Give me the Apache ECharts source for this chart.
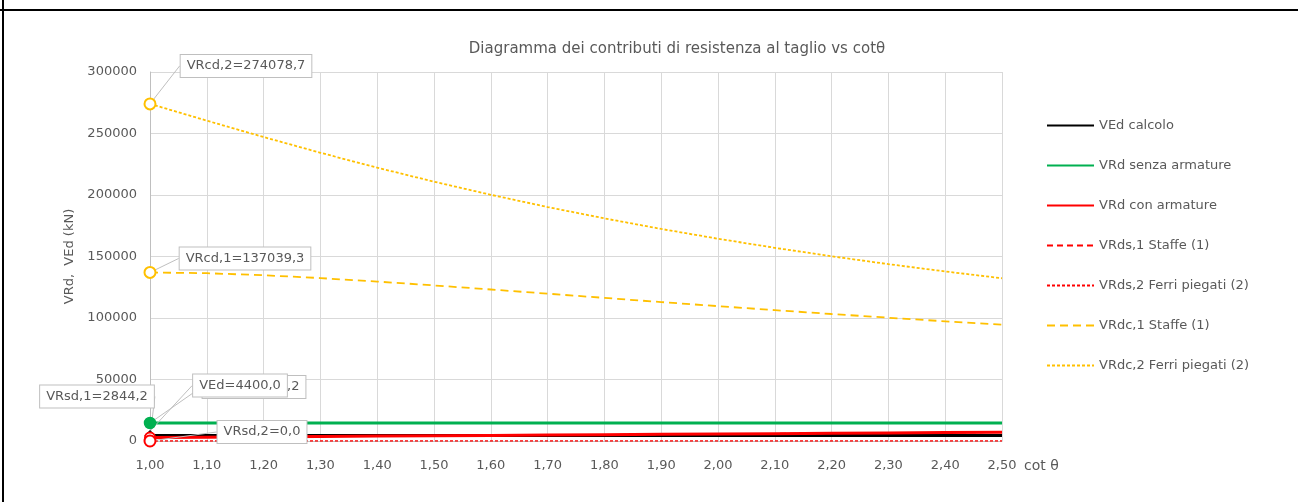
<!DOCTYPE html>
<html>
<head>
<meta charset="utf-8">
<script src="https://cdn.jsdelivr.net/npm/echarts@6/dist/echarts.min.js"></script>
<style>
  html, body { margin: 0; padding: 0; background: #fff; }
  #chart { width: 1298px; height: 502px; }
</style>
</head>
<body>
<div id="chart"></div>
<script>
// cot(theta) values on the x axis
const cotTheta = [1.00, 1.10, 1.20, 1.30, 1.40, 1.50, 1.60, 1.70, 1.80, 1.90, 2.00, 2.10, 2.20, 2.30, 2.40, 2.50]

// series values (kN)
const vEd = [4400, 4400, 4400, 4400, 4400, 4400, 4400, 4400, 4400, 4400, 4400, 4400, 4400, 4400, 4400, 4400]
const vRdSenza = [14633.2, 14633.2, 14633.2, 14633.2, 14633.2, 14633.2, 14633.2, 14633.2, 14633.2, 14633.2, 14633.2, 14633.2, 14633.2, 14633.2, 14633.2, 14633.2]
const vRdCon = [2844.2, 3128.6, 3413.0, 3697.5, 3981.9, 4266.3, 4550.7, 4835.1, 5119.6, 5404.0, 5688.4, 5972.8, 6257.2, 6541.7, 6826.1, 7110.5]
const vRsd1 = [2844.2, 3128.6, 3413.0, 3697.5, 3981.9, 4266.3, 4550.7, 4835.1, 5119.6, 5404.0, 5688.4, 5972.8, 6257.2, 6541.7, 6826.1, 7110.5]
const vRsd2 = [0, 0, 0, 0, 0, 0, 0, 0, 0, 0, 0, 0, 0, 0, 0, 0]
const vRcd1 = [137039.3, 136410, 134790, 132450, 129630, 126500, 123180, 119780, 116350, 112960, 109630, 106390, 103250, 100220, 97310, 94510]
const vRcd2 = [274078.7, 260440, 247120, 234340, 222220, 210830, 200170, 190230, 181000, 172420, 164450, 157050, 150180, 143790, 137850, 132310]

// tick labels
const yTicks = [0, 50000, 100000, 150000, 200000, 250000, 300000]

const names = ['VEd calcolo', 'VRd senza armature', 'VRd con armature', 'VRds,1 Staffe (1)',
  'VRds,2 Ferri piegati (2)', 'VRdc,1 Staffe (1)', 'VRdc,2 Ferri piegati (2)']

const grey = '#595959'
const font = 'DejaVu Sans'

const callout = {
  show: true,
  position: 'inside',
  backgroundColor: '#fff',
  borderColor: '#bfbfbf',
  borderWidth: 1,
  padding: [5, 6, 4, 6],
  color: grey,
  fontFamily: font,
  fontSize: 13
}

// first point carries the marker and the callout
function makeData(vals, symbol, size, text) {
  return cotTheta.map((c, i) => {
    if (i > 0) return [c, vals[i]]
    const item = { value: [c, vals[i]] }
    if (symbol) {
      item.symbol = symbol
      item.symbolSize = size
    }
    if (text) item.label = Object.assign({}, callout, { formatter: text })
    return item
  })
}

function lineSeries(name, vals, color, width, type, symbol, size, text, move) {
  return {
    name: name,
    type: 'line',
    symbol: 'none',
    data: makeData(vals, symbol, size, text),
    lineStyle: { color: color, width: width, type: type },
    itemStyle: { color: color, borderColor: color, borderWidth: 1.5 },
    label: { show: false },
    labelLine: { show: true, lineStyle: { color: '#bfbfbf', width: 1 } },
    labelLayout: move || {},
    emphasis: { disabled: true },
    animation: false
  }
}

const chart = echarts.init(document.getElementById('chart'))

const option = {
  backgroundColor: '#fff',
  title: {
    text: 'Diagramma dei contributi di resistenza al taglio vs cotθ',
    left: 672,
    textAlign: 'center',
    top: 37,
    textStyle: { color: grey, fontFamily: font, fontSize: 15, fontWeight: 'normal' }
  },
  legend: {
    data: names,
    orient: 'vertical',
    left: 1046,
    top: 119,
    padding: 0,
    itemWidth: 47,
    itemHeight: 14,
    itemGap: 27,
    itemStyle: { color: 'transparent', borderColor: 'transparent', borderWidth: 0, opacity: 0 },
    textStyle: { color: grey, fontFamily: font, fontSize: 13 }
  },
  grid: { left: 150, right: 296, top: 72, bottom: 61 },
  xAxis: {
    type: 'value',
    min: 1.0,
    max: 2.5,
    interval: 0.1,
    name: 'cot θ',
    nameLocation: 'end',
    nameGap: 22,
    nameTextStyle: { color: grey, fontFamily: font, fontSize: 14, verticalAlign: 'top', padding: [18, 0, 0, 0] },
    axisLine: { show: true, lineStyle: { color: '#bfbfbf' } },
    axisTick: { show: false },
    axisLabel: {
      color: grey, fontFamily: font, fontSize: 13, margin: 18,
      formatter: v => v.toFixed(2).replace('.', ',')
    },
    splitLine: { show: true, lineStyle: { color: '#d9d9d9' } }
  },
  yAxis: {
    type: 'value',
    min: yTicks[0],
    max: yTicks[yTicks.length - 1],
    interval: yTicks[1] - yTicks[0],
    name: 'VRd,  VEd (kN)',
    nameLocation: 'middle',
    nameGap: 72,
    nameTextStyle: { color: grey, fontFamily: font, fontSize: 13 },
    axisLine: { show: true, lineStyle: { color: '#bfbfbf' } },
    axisTick: { show: false },
    axisLabel: { color: grey, fontFamily: font, fontSize: 13, margin: 13, formatter: v => String(v) },
    splitLine: { show: true, lineStyle: { color: '#d9d9d9' } }
  },
  graphic: [
    { type: 'line', shape: { x1: 0, y1: 10, x2: 1298, y2: 10 }, style: { stroke: '#000', lineWidth: 2 } },
    { type: 'line', shape: { x1: 3, y1: 0, x2: 3, y2: 502 }, style: { stroke: '#000', lineWidth: 2 } }
  ],
  series: [
    lineSeries(names[1], vRdSenza, '#00b050', 3, 'solid', 'circle', 11, 'VRd=14633,2', { dx: 104, dy: -36 }),
    lineSeries(names[0], vEd, '#000000', 3, 'solid', 'diamond', 9, 'VEd=4400,0', { dx: 90, dy: -50 }),
    lineSeries(names[2], vRdCon, '#ff0000', 3, 'solid', null, 0, null),
    lineSeries(names[3], vRsd1, '#ff0000', 1.5, [6, 4], 'emptyCircle', 10, 'VRsd,1=2844,2', { dx: -53, dy: -41 }),
    lineSeries(names[4], vRsd2, '#ff0000', 1.5, [3, 2], 'emptyCircle', 11, 'VRsd,2=0,0', { dx: 112, dy: -9 }),
    lineSeries(names[5], vRcd1, '#ffc000', 1.8, [8, 5], 'emptyCircle', 11, 'VRcd,1=137039,3', { dx: 95, dy: -14 }),
    lineSeries(names[6], vRcd2, '#ffc000', 1.8, [3, 2], 'emptyCircle', 11, 'VRcd,2=274078,7', { dx: 96, dy: -38 })
  ]
}

chart.setOption(option)
</script>
</body>
</html>
